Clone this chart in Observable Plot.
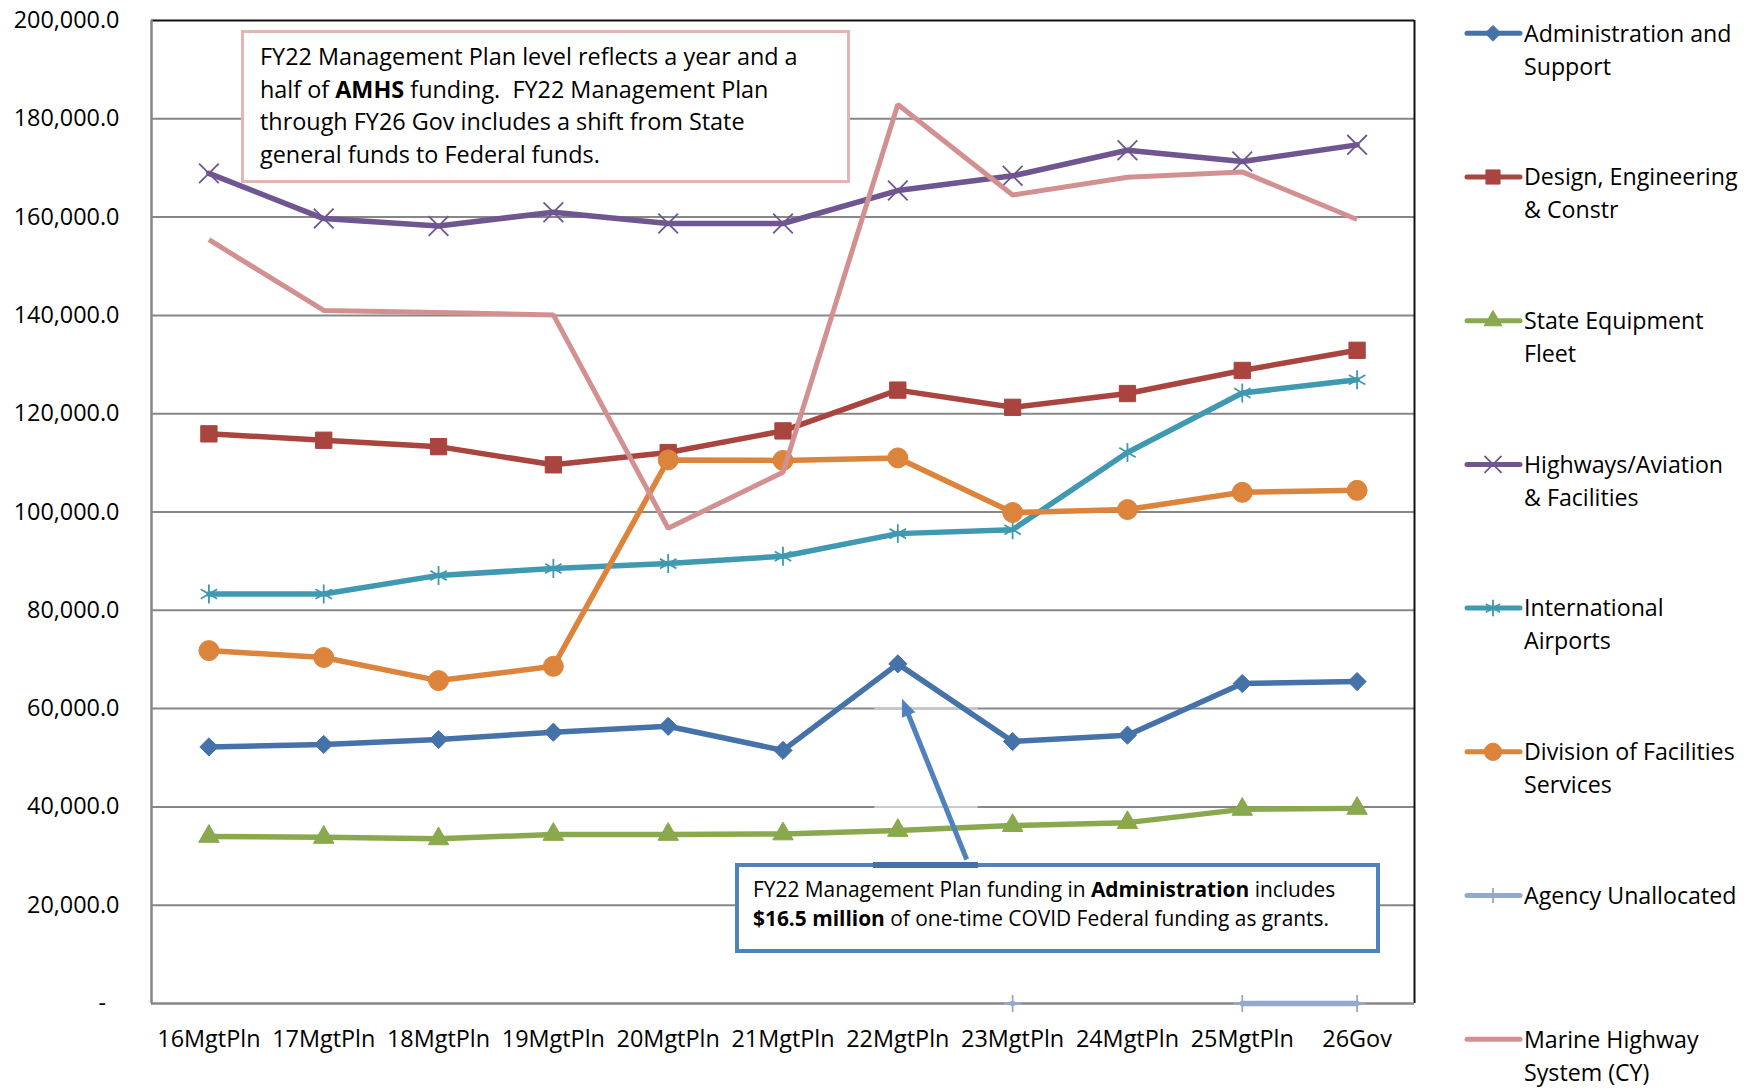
<!DOCTYPE html>
<html>
<head>
<meta charset="utf-8">
<script src="https://cdn.jsdelivr.net/npm/d3@7"></script>
<script src="https://cdn.jsdelivr.net/npm/@observablehq/plot@0.6"></script>
<style>
  body { margin: 0; background: #fff; }
  #chart { position: relative; width: 1756px; height: 1091px; font-family: "Open Sans", sans-serif; color: #000; }
  #chart > svg { position: absolute; left: 0; top: 0; }
  .note { position: absolute; box-sizing: border-box; background: #fff; white-space: nowrap; color: #000; }
  .note b { font-weight: 700; }
  #amhs-note { left: 241px; top: 30px; width: 609px; height: 153px; border: 3.5px solid #E4B4B3;
               padding: 7px 0 0 16px; font-size: 23.4px; line-height: 32.6px; }
  #covid-note { left: 735px; top: 863px; width: 645px; height: 90px; border: 4.5px solid #4F81BD;
                padding: 7.5px 0 0 14px; font-size: 20.9px; line-height: 29px; }
  #covid-join { position: absolute; left: 873px; top: 862px; width: 105px; height: 6px; background: #4571A8; }
</style>
</head>
<body>
<div id="chart"></div>
<script>
// Fiscal-year columns
const categories = ["16MgtPln", "17MgtPln", "18MgtPln", "19MgtPln", "20MgtPln", "21MgtPln",
                    "22MgtPln", "23MgtPln", "24MgtPln", "25MgtPln", "26Gov"];

// Funding by appropriation (thousands of dollars)
const adminSupport          = [52200, 52700, 53700, 55200, 56400, 51500, 69100, 53300, 54600, 65100, 65500];
const designEngineering     = [115900, 114600, 113300, 109600, 112100, 116500, 124800, 121300, 124100, 128800, 132900];
const stateEquipment        = [34000, 33800, 33500, 34400, 34400, 34500, 35200, 36200, 36800, 39500, 39700];
const highwaysAviation      = [168900, 159700, 158200, 161000, 158700, 158700, 165400, 168400, 173600, 171300, 174700];
const internationalAirports = [83300, 83300, 87100, 88500, 89500, 91000, 95600, 96400, 112100, 124200, 126900];
const facilitiesServices    = [71800, 70400, 65700, 68600, 110600, 110500, 111000, 99900, 100500, 104000, 104400];
const agencyUnallocated     = [null, null, null, null, null, null, null, 0, null, 0, 0];
const marineHighway         = [155400, 141000, 140600, 140100, 96700, 108100, 182900, 164500, 168100, 169200, 159500];

// Legend labels (as wrapped in the legend)
const seriesLabels = [
  ["Administration and", "Support"],
  ["Design, Engineering", "& Constr"],
  ["State Equipment", "Fleet"],
  ["Highways/Aviation", "& Facilities"],
  ["International", "Airports"],
  ["Division of Facilities", "Services"],
  ["Agency Unallocated"],
  ["Marine Highway", "System (CY)"]
];

const yTicks = [0, 20000, 40000, 60000, 80000, 100000, 120000, 140000, 160000, 180000, 200000];

// Drawing styles per series, in legend order
const seriesValues = [adminSupport, designEngineering, stateEquipment, highwaysAviation,
                      internationalAirports, facilitiesServices, agencyUnallocated, marineHighway];
const seriesStyles = [
  {color: "#4672AA", symbol: "diamond2", r: 8.2, filled: true},
  {color: "#A9443F", symbol: "square",   r: 9.2, filled: true},
  {color: "#8AA84E", symbol: "triangle", r: 7.6, filled: true},
  {color: "#6F5690", symbol: "times",    r: 9,   filled: false},
  {color: "#3E99B1", symbol: "asterisk", r: 9,   filled: false},
  {color: "#DC843B", symbol: "circle",   r: 10,  filled: true},
  {color: "#93A9D0", symbol: "plus",     r: 5.6, filled: false},
  {color: "#D29190", symbol: null}
];

const series = seriesValues.map((values, k) => ({
  key: seriesLabels[k].join(" "),
  labels: seriesLabels[k],
  values,
  ...seriesStyles[k]
}));

// Plot frame
const W = 1756, H = 1091;
const margin = {left: 151, right: 342, top: 20, bottom: 88};
const xDomain = [-0.5, 10.5], yDomain = [0, 200000];
const xScale = d3.scaleLinear(xDomain, [margin.left, W - margin.right]);
const yScale = d3.scaleLinear(yDomain, [H - margin.bottom, margin.top]);

// Callout arrow: from the COVID note up toward the FY22 Administration point
const covidArrow = {x1: 6.6, y1: 29300, x2: 6.04, y2: 61800};
const headLength = 16, headHalfWidth = 6.5;
const dxp = xScale(covidArrow.x2) - xScale(covidArrow.x1);
const dyp = yScale(covidArrow.y2) - yScale(covidArrow.y1);
const lenp = Math.hypot(dxp, dyp);
const headAngle = Math.atan2(dxp, -dyp) * 180 / Math.PI;
// shaft stops inside the arrowhead so the tip stays sharp
const shaftEnd = {
  x: xScale.invert(xScale(covidArrow.x2) - dxp / lenp * 10),
  y: yScale.invert(yScale(covidArrow.y2) - dyp / lenp * 10)
};
const arrowHeadSymbol = {
  draw(context) {
    context.moveTo(0, 0);
    context.lineTo(headHalfWidth, headLength);
    context.lineTo(-headHalfWidth, headLength);
    context.closePath();
  }
};

const rows = s => s.values.map((v, i) => ({i, value: v}));

const marks = [
  // horizontal gridlines
  Plot.ruleY(yTicks.filter(t => t > 0 && t < 200000), {stroke: "#878787", strokeWidth: 2}),
  // faded gridline stretch behind the callout connector
  Plot.ruleY([40000, 60000], {x1: 5.8, x2: 6.7, stroke: "#cacaca", strokeWidth: 2}),
  // plot frame
  Plot.ruleY([200000], {stroke: "#111", strokeWidth: 2.2}),
  Plot.ruleX([10.5], {stroke: "#111", strokeWidth: 2}),
  Plot.ruleX([-0.5], {stroke: "#878787", strokeWidth: 2.5}),
  Plot.ruleY([0], {stroke: "#878787", strokeWidth: 2.5}),
  Plot.axisY({
    ticks: yTicks, tickSize: 0, tickPadding: 32,
    tickFormat: d => d === 0 ? "-\u2007" : d3.format(",.1f")(d)
  }),
  Plot.axisX({
    ticks: d3.range(categories.length), tickSize: 0, tickPadding: 27,
    tickFormat: i => categories[i]
  })
];

for (const s of series) {
  marks.push(Plot.line(rows(s), {
    x: "i", y: "value", stroke: s.color, strokeWidth: s.symbol ? 5.5 : 5,
    strokeLinejoin: "miter", strokeLinecap: s.symbol ? "round" : "butt"
  }));
  if (s.symbol) {
    marks.push(Plot.dot(rows(s), {
      x: "i", y: "value", symbol: s.symbol, r: s.r,
      fill: s.filled ? s.color : "none",
      stroke: s.color, strokeWidth: s.filled ? 1 : 1.8
    }));
  }
}

marks.push(
  Plot.link([covidArrow], {
    x1: "x1", y1: "y1", x2: () => shaftEnd.x, y2: () => shaftEnd.y,
    stroke: "#4F81BD", strokeWidth: 5, strokeLinecap: "butt"
  }),
  Plot.dot([covidArrow], {
    x: "x2", y: "y2", symbol: arrowHeadSymbol, rotate: headAngle,
    fill: "#4F81BD", stroke: "#4F81BD", strokeWidth: 1
  })
);

const chart = Plot.plot({
  width: W,
  height: H,
  marginLeft: margin.left,
  marginRight: margin.right,
  marginTop: margin.top,
  marginBottom: margin.bottom,
  x: {type: "linear", domain: xDomain, label: null},
  y: {domain: yDomain, label: null},
  style: {fontFamily: "'Open Sans', sans-serif", fontSize: "23.4px", color: "#000", background: "#fff"},
  marks
});

const root = document.getElementById("chart");
root.appendChild(chart);

// Legend on the right
const symbolTypes = {
  diamond2: d3.symbolDiamond2, square: d3.symbolSquare, triangle: d3.symbolTriangle,
  times: d3.symbolTimes, asterisk: d3.symbolAsterisk, circle: d3.symbolCircle, plus: d3.symbolPlus
};
const legend = d3.create("svg")
  .attr("width", 316).attr("height", H)
  .style("position", "absolute").style("left", "1440px").style("top", "0px")
  .style("font-family", "'Open Sans', sans-serif").style("font-size", "23.2px");

series.forEach((s, k) => {
  const g = legend.append("g").attr("transform", `translate(0,${33.3 + k * 143.7})`);
  g.append("line").attr("x1", 27).attr("x2", 80).attr("y1", 0).attr("y2", 0)
    .attr("stroke", s.color).attr("stroke-width", 5).attr("stroke-linecap", "round");
  if (s.symbol) {
    const size = Math.PI * s.r * s.r * 0.75;
    g.append("path").attr("transform", "translate(53,0)")
      .attr("d", d3.symbol(symbolTypes[s.symbol], size)())
      .attr("fill", s.filled ? s.color : "none")
      .attr("stroke", s.color).attr("stroke-width", s.filled ? 1 : 1.8);
  }
  s.labels.forEach((line, j) => {
    g.append("text").attr("x", 84).attr("y", j * 33).attr("dy", "0.36em").attr("fill", "#000").text(line);
  });
});
root.appendChild(legend.node());

// Callout notes
const amhs = document.createElement("div");
amhs.className = "note";
amhs.id = "amhs-note";
amhs.innerHTML = "FY22 Management Plan level reflects a year and a<br>" +
  "half of <b>AMHS</b> funding.&nbsp; FY22 Management Plan<br>" +
  "through FY26 Gov includes a shift from State<br>" +
  "general funds to Federal funds.";
root.appendChild(amhs);

const covid = document.createElement("div");
covid.className = "note";
covid.id = "covid-note";
covid.innerHTML = "FY22 Management Plan funding in <b>Administration</b> includes<br>" +
  "<b>$16.5 million</b> of one-time COVID Federal funding as grants.";
root.appendChild(covid);

const join = document.createElement("div");
join.id = "covid-join";
root.appendChild(join);
</script>
</body>
</html>
